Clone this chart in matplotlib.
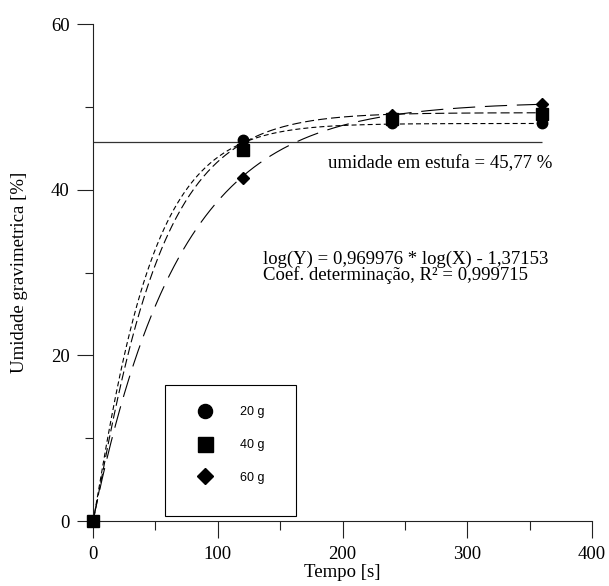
import numpy as np
import matplotlib
matplotlib.use("Agg")
import matplotlib.pyplot as plt
from matplotlib.patches import Rectangle
from matplotlib.ticker import MultipleLocator

plt.rcParams['font.family'] = ['Liberation Serif', 'DejaVu Serif']
plt.rcParams['lines.scale_dashes'] = False

# measured moisture content (%) vs drying time (s) for each sample mass
tempo = np.array([0, 120, 240, 360])
umid_20g = np.array([0.0, 46.0, 48.0, 48.0])
umid_40g = np.array([0.0, 44.8, 48.6, 49.2])
umid_60g = np.array([0.0, 41.4, 49.0, 50.4])

# fitted curves y = a * (1 - exp(-(t/b)^c))
fit_a = [48.0, 49.3, 50.6]
fit_b = [44.0, 50.5, 69.4]
fit_c = [1.1, 1.1, 1.0]

umidade_estufa = 45.77
labels = ['20 g', '40 g', '60 g']
markers = ['o', 's', 'D']
msizes = [7.5, 8.0, 6.0]
dashes = [(3.6, 2.2), (6.5, 2.9), (16, 7)]

fig = plt.figure(figsize=(6.09, 5.86), dpi=100)
ax = fig.add_axes([0.1527, 0.1109, 0.8194, 0.848])

t_fit = np.linspace(0, tempo.max(), 400)
for a, b, c, d in zip(fit_a, fit_b, fit_c, dashes):
    ax.plot(t_fit, a * (1 - np.exp(-(t_fit / b) ** c)), color='k', lw=0.8,
            dashes=d)

ax.hlines(umidade_estufa, 0, tempo.max(), color='#333333', lw=0.9)

handles = []
for y, lab, m, ms in zip([umid_20g, umid_40g, umid_60g], labels, markers, msizes):
    h, = ax.plot(tempo, y, ls='none', marker=m, ms=ms, color='k',
                 label=lab, clip_on=False, zorder=5)
    handles.append(h)

ax.set_xlim(0, 400)
ax.set_ylim(0, 60)
ax.xaxis.set_major_locator(MultipleLocator(100))
ax.xaxis.set_minor_locator(MultipleLocator(50))
ax.yaxis.set_major_locator(MultipleLocator(20))
ax.yaxis.set_minor_locator(MultipleLocator(10))

for s in ['top', 'right']:
    ax.spines[s].set_visible(False)
for s in ['left', 'bottom']:
    ax.spines[s].set_linewidth(0.8)
    ax.spines[s].set_color('#222222')

ax.tick_params(axis='y', which='major', length=11.5, width=0.8, pad=5.5,
               labelsize=13.5, color='#222222')
ax.tick_params(axis='y', which='minor', length=5.8, width=0.8, color='#222222')
ax.tick_params(axis='x', which='major', length=12, width=0.8, pad=6,
               labelsize=13.5, color='#222222')
ax.tick_params(axis='x', which='minor', length=6.5, width=0.8, color='#222222')

ax.set_xlabel('Tempo [s]', fontsize=13.5, labelpad=1)
ax.set_ylabel('Umidade gravimetrica [%]', fontsize=13.5, labelpad=16)

ax.text(188.4, 42.6, 'umidade em estufa = 45,77 %', fontsize=13.5,
        va='baseline', ha='left')
ax.text(136.3, 31.1, 'log(Y) = 0,969976 * log(X) - 1,37153', fontsize=13.5,
        va='baseline', ha='left')
ax.text(136.3, 29.1, 'Coef. determinação, R² = 0,999715', fontsize=13.5,
        va='baseline', ha='left')

# legend entries without frame, box drawn separately
leg = ax.legend(handles=handles, loc='upper left',
                bbox_to_anchor=(0.1443, 0.0, 0.2625, 0.2736), mode='expand',
                borderaxespad=0, frameon=False, markerscale=1.35,
                prop={'family': 'Liberation Sans', 'size': 9},
                handlelength=3.0, handletextpad=1.3, borderpad=1.7,
                labelspacing=1.65)
ax.add_patch(Rectangle((0.1443, 0.0101), 0.2625, 0.2635, transform=ax.transAxes,
                       fill=False, edgecolor='k', lw=0.8, zorder=6))

fig.savefig('out.png', dpi=100)
